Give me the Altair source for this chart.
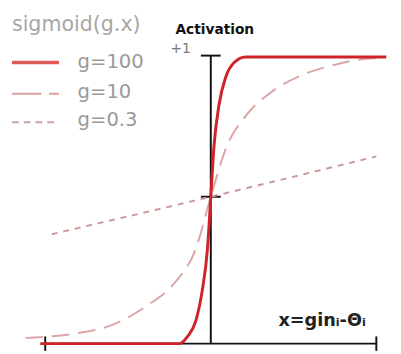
import altair as alt
import pandas as pd

# ---- data ----
series_names = ["g=100", "g=10", "g=0.3"]

g100_x = [-1.03, -0.19, -0.14, -0.09, -0.05, -0.02, 0.0, 0.02, 0.05, 0.09, 0.14, 0.21, 1.06]
g100_y = [0.0, 0.0, 0.025, 0.08, 0.19, 0.33, 0.51, 0.69, 0.83, 0.925, 0.975, 0.995, 0.995]

g10_x = [-1.12, -0.82, -0.62, -0.39, -0.22, -0.09, 0.0, 0.10, 0.21, 0.37, 0.56, 0.74, 0.86, 1.02]
g10_y = [0.02, 0.035, 0.06, 0.13, 0.21, 0.33, 0.51, 0.69, 0.79, 0.875, 0.935, 0.967, 0.983, 0.993]

g03_x = [-0.96, 0.0, 1.0]
g03_y = [0.38, 0.51, 0.65]

# axis pieces (data units)
axis_h = {"x": [-1.0], "x2": [1.0], "y": [0.0]}
axis_v = {"x": [0.0], "y": [0.0], "y2": [1.0]}
tick_h = {"x": [-0.06, -0.06], "x2": [0.06, 0.06], "y": [1.0, 0.51]}
tick_v = {"x": [-1.0, 1.0], "y": [-0.025, -0.025], "y2": [0.025, 0.025]}

W, H = 393, 346
xs = alt.Scale(domain=[-1.2249, 1.1006], nice=False, zero=False)
ys = alt.Scale(domain=[-0.0238, 1.1531], nice=False, zero=False)


def X(f="x"):
    return alt.X(f"{f}:Q", scale=xs, axis=None)


def Y(f="y"):
    return alt.Y(f"{f}:Q", scale=ys, axis=None)


axes = alt.layer(
    alt.Chart(pd.DataFrame(axis_h)).mark_rule(color="#111", strokeWidth=2).encode(
        x=X(), x2="x2:Q", y=Y()),
    alt.Chart(pd.DataFrame(axis_v)).mark_rule(color="#111", strokeWidth=2).encode(
        x=X(), y=Y(), y2="y2:Q"),
    alt.Chart(pd.DataFrame(tick_h)).mark_rule(color="#111", strokeWidth=2).encode(
        x=X(), x2="x2:Q", y=Y()),
    alt.Chart(pd.DataFrame(tick_v)).mark_rule(color="#111", strokeWidth=2).encode(
        x=X(), y=Y(), y2="y2:Q"),
)


def curve(xv, yv, color, width, dash=None, opacity=1.0):
    df = pd.DataFrame({"x": xv, "y": yv, "o": range(len(xv))})
    kw = dict(color=color, strokeWidth=width, interpolate="monotone", opacity=opacity,
              strokeCap="butt")
    if dash:
        kw["strokeDash"] = dash
    return alt.Chart(df).mark_line(**kw).encode(x=X(), y=Y(), order="o:Q")


c03 = curve(g03_x, g03_y, "#c89a9a", 2, [6, 6])
c10 = curve(g10_x, g10_y, "#dba6a6", 2, [18, 9])
c100 = curve(g100_x, g100_y, "#cf2229", 3)

# ---- legend & labels (pixel positions, offset by 8px page margin) ----
def rule_px(x1, x2, y, color, width, dash=None):
    kw = dict(color=color, strokeWidth=width)
    if dash:
        kw["strokeDash"] = dash
    return alt.Chart(pd.DataFrame({"a": [0]})).mark_rule(**kw).encode(
        x=alt.value(x1 - 8), x2=alt.value(x2 - 8), y=alt.value(y - 8))


def text_px(txt, x, y, size, color, bold=False, font="DejaVu Sans"):
    return alt.Chart(pd.DataFrame({"t": [txt]})).mark_text(
        align="left", baseline="middle", fontSize=size, color=color,
        fontWeight="bold" if bold else "normal", font=font).encode(
        text="t:N", x=alt.value(x - 8), y=alt.value(y - 8))


legend = alt.layer(
    text_px("sigmoid(g.x)", 12, 22, 21, "#a6a6a6"),
    rule_px(12, 60, 60, "#e05a5a", 3.5),
    rule_px(12, 60, 92, "#d9a0a0", 2, [30, 8]),
    rule_px(12, 60, 121, "#c8a6a6", 2, [7, 5]),
    text_px(series_names[0], 79, 60, 20, "#9a9a9a"),
    text_px(series_names[1], 79, 90, 20, "#9a9a9a"),
    text_px(series_names[2], 79, 119, 20, "#9a9a9a"),
    text_px("Activation", 179, 27, 14, "#111", bold=True),
    text_px("+1", 174, 46, 14, "#777"),
    text_px("x=ginᵢ-Θᵢ", 284, 324, 18, "#222", bold=True),
)

chart = alt.layer(axes, c03, c10, c100, legend).properties(
    width=W, height=H, autosize=alt.AutoSizeParams(type="none"), padding=0
).configure_view(strokeWidth=0)

chart.save("out.html", embed_options={"renderer": "svg", "actions": False})
